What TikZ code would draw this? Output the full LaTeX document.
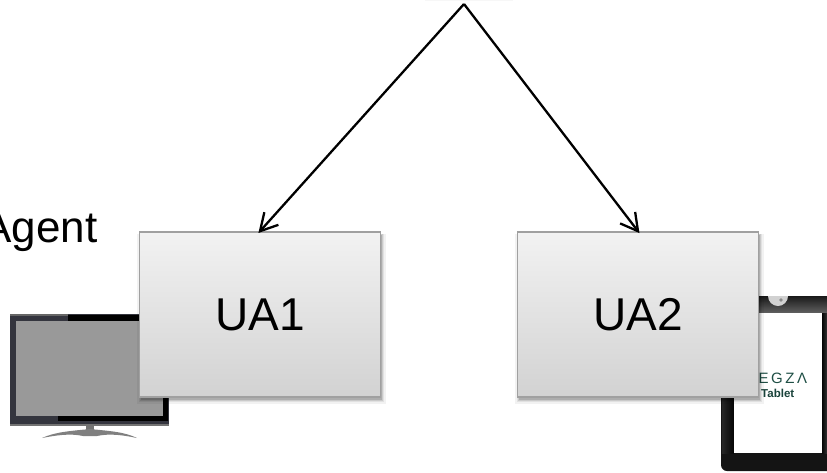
\documentclass[tikz,border=0pt]{standalone}
\usepackage{fontspec}
\setmainfont{Liberation Sans}
\usetikzlibrary{shadows,calc}
\tikzset{
  uabox/.style={rectangle,draw=boxedge,line width=1.6pt,minimum width=241pt,minimum height=165pt,inner sep=0pt,
    top color=boxtop,bottom color=boxbot,font=\fontsize{46}{50}\selectfont,text=black,
    general shadow={fill=black,opacity=.05,shadow xshift=1.5pt,shadow yshift=-4pt,shadow scale=1.03},
    general shadow={fill=black,opacity=.07,shadow xshift=1.5pt,shadow yshift=-3.5pt,shadow scale=1.02},
    general shadow={fill=black,opacity=.10,shadow xshift=1.5pt,shadow yshift=-3pt,shadow scale=1.01},
    general shadow={fill=black,opacity=.14,shadow xshift=1.5pt,shadow yshift=-2.5pt,shadow scale=1.0}},
  link/.style={line width=2.3pt,black,line join=miter},
}
\definecolor{boxedge}{HTML}{A0A0A0}
\definecolor{boxtop}{HTML}{F2F2F2}
\definecolor{boxbot}{HTML}{D2D2D2}
\definecolor{bezel}{HTML}{34353E}
\definecolor{regza}{HTML}{1F4F45}
\begin{document}
\begin{tikzpicture}[x=1pt,y=-1pt]
\useasboundingbox (0,0) rectangle (827,472);
\clip (0,0) rectangle (827,472);
% faint box remnant at the top
\fill[black!3] (425,0) rectangle (513,1);
% Agent label
\node[anchor=base east,inner sep=0pt,font=\fontsize{44}{46}\selectfont] (agent) at (97.5,242) {Agent};
% TV
\fill[bezel] (10,314) rectangle (169,425);
\fill[black] (68,315) rectangle (168,320.5);
\fill[black] (58,416) rectangle (168,421);
\fill[black] (163,320) rectangle (168,421);
\fill[black!60] (10,314) rectangle (68,315.5);
\fill[black!55] (10,424) rectangle (169,425.5);
\fill[black!40] (16,321) rectangle (163,416);
\fill[black!55] (86,425) rectangle (94,431);
\fill[black!50] (42,438) .. controls (55,432) and (70,431) .. (90,429) .. controls (110,431) and (125,432) .. (137,438)
  .. controls (125,435.5) and (110,433) .. (97,436) -- (83,436) .. controls (70,433) and (55,435.5) .. (42,438) -- cycle;
% Tablet
\fill[rounded corners=6pt,black!92] (721,296) rectangle (840,471);
\shade[top color=black!90,bottom color=black!62] (728,296) rectangle (827,313);
\shade[left color=black!85,right color=black!98] (722,340) rectangle (734,453);
\shade[left color=black!98,right color=black!80] (822,313) rectangle (827,453);
\fill[white] (734,313) rectangle (822,453);
\fill[black!18] (768,296) arc[start angle=180,end angle=360,radius=10pt];
\fill[black!45] (781,300) circle[radius=1.8pt];
\node[anchor=base west,inner sep=0pt,text=regza,font=\fontsize{15}{15}\selectfont] (egza) at (758.5,383.5) {\addfontfeature{LetterSpace=17}EGZΛ};
\node[anchor=base west,inner sep=0pt,text=regza!85!black,font=\bfseries\fontsize{11.5}{12}\selectfont] (tablet) at (761,397) {Tablet};
% User agents
\coordinate (apex) at (464,4);
\node[uabox] (UA1) at (260,314.5) {UA1};
\node[uabox] (UA2) at (638,314.5) {UA2};
\draw[link] (apex) -- (UA1.north);
\draw[link] (apex) -- (UA2.north);
\draw[link] ($(UA1.north)!19.5pt!29:(apex)$) -- (UA1.north) -- ($(UA1.north)!19.5pt!-29:(apex)$);
\draw[link] ($(UA2.north)!19.5pt!29:(apex)$) -- (UA2.north) -- ($(UA2.north)!19.5pt!-29:(apex)$);
\end{tikzpicture}
\end{document}
